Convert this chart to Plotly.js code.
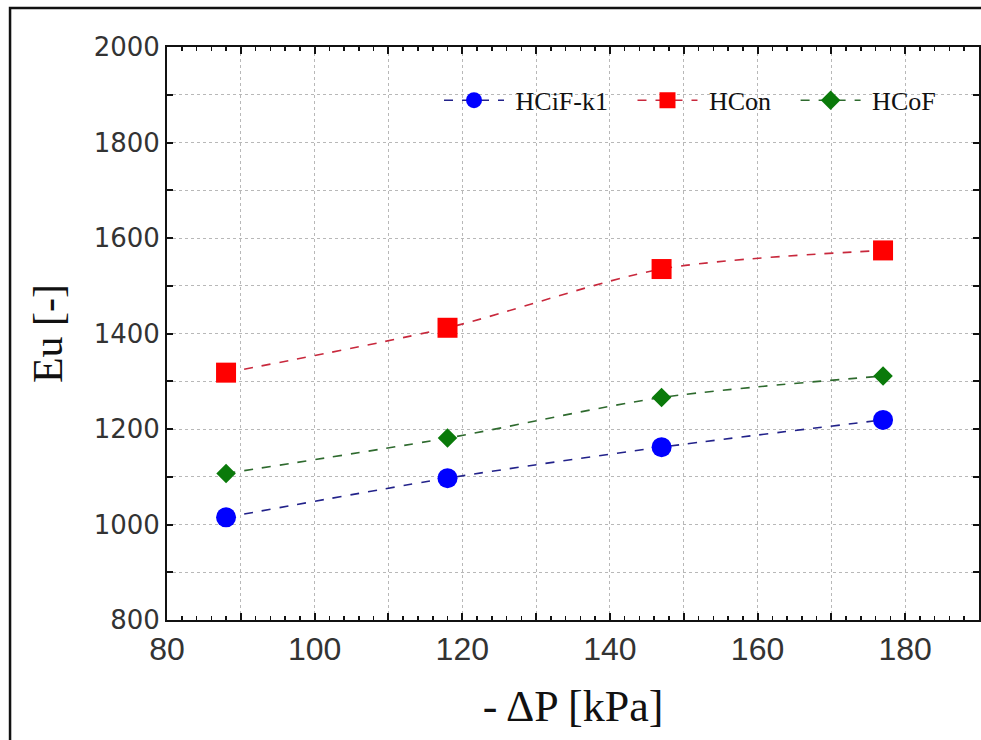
<!DOCTYPE html>
<html>
<head>
<meta charset="utf-8">
<script src="https://cdn.plot.ly/plotly-3.0.1.min.js"></script>
<style>html,body{margin:0;padding:0;background:#fff;}#chart{width:981px;height:740px;}</style>
</head>
<body>
<div id="chart"></div>
<script>
const pressure = [88, 118, 147, 177];
const eu_HCiF_k1 = [1015, 1097, 1162, 1219];
const eu_HCon = [1318, 1412, 1535, 1574];
const eu_HCoF = [1107, 1181, 1266, 1311];
const seriesNames = ['HCiF-k1', 'HCon', 'HCoF'];
const xTickVals = [80, 90, 100, 110, 120, 130, 140, 150, 160, 170, 180, 190];
const xTickText = ['80', '', '100', '', '120', '', '140', '', '160', '', '180', ''];
const yTickVals = [800, 900, 1000, 1100, 1200, 1300, 1400, 1500, 1600, 1700, 1800, 1900, 2000];
const yTickText = ['800', '', '1000', '', '1200', '', '1400', '', '1600', '', '1800', '', '2000'];

const lead = '\u00a0';
const pad = '\u00a0\u00a0\u00a0';
function tr(y, name, sym, size, mcol, lcol) {
  return {
    x: pressure, y: y, name: lead + name + pad, type: 'scatter', mode: 'lines+markers',
    line: {color: lcol, width: 1.6, dash: 'dash', shape: 'spline', smoothing: 0.8},
    marker: {symbol: sym, size: size, color: mcol}
  };
}
const data = [
  tr(eu_HCiF_k1, seriesNames[0], 'circle', 20, '#0000ff', '#22228a'),
  tr(eu_HCon, seriesNames[1], 'square', 20, '#ff0000', '#c8283c'),
  tr(eu_HCoF, seriesNames[2], 'diamond', 15, '#0a7a0a', '#2e6a2e')
];
const layout = {
  width: 981, height: 740,
  margin: {l: 167, r: 2, t: 47, b: 120},
  paper_bgcolor: '#fff', plot_bgcolor: '#fff',
  showlegend: true,
  legend: {orientation: 'h', x: 0.335, xanchor: 'left', y: 0.907, yanchor: 'middle',
    bgcolor: 'rgba(0,0,0,0)', font: {family: 'Liberation Serif', size: 26, color: '#111'},
    itemwidth: 60, itemclick: false},
  xaxis: {
    range: [80, 190], tickmode: 'array', tickvals: xTickVals, ticktext: xTickText,
    showgrid: true, gridcolor: '#b8b8b8', griddash: 'dot', gridwidth: 1,
    zeroline: false, showline: true, linecolor: '#111', linewidth: 2, mirror: 'ticks',
    ticks: 'inside', ticklen: 7, tickwidth: 2, tickcolor: '#111',
    minor: {dtick: 2, ticks: 'inside', ticklen: 4, tickwidth: 1.5, tickcolor: '#111', showgrid: false},
    tickfont: {family: 'Liberation Sans Narrow, Liberation Sans', size: 32, color: '#333'},
    title: {text: '- ΔP [kPa]', font: {family: 'Liberation Serif', size: 44, color: '#111'}, standoff: 24}
  },
  yaxis: {
    range: [800, 2000], tickmode: 'array', tickvals: yTickVals, ticktext: yTickText,
    showgrid: true, gridcolor: '#b8b8b8', griddash: 'dot', gridwidth: 1,
    zeroline: false, showline: true, linecolor: '#111', linewidth: 2, mirror: 'ticks',
    ticks: 'inside', ticklen: 6, tickwidth: 2, tickcolor: '#111',
    tickfont: {family: 'DejaVu Sans', size: 26, color: '#333'},
    title: {text: 'Eu [-]', font: {family: 'Liberation Serif', size: 42, color: '#111'}, standoff: 18}
  },
  shapes: [{type: 'path', xref: 'paper', yref: 'paper',
    path: 'M 1.2,1.068 L -0.1933,1.068 L -0.1933,-0.3',
    line: {color: '#111', width: 2.5}}]
};
Plotly.newPlot('chart', data, layout, {staticPlot: true});
</script>
</body>
</html>
